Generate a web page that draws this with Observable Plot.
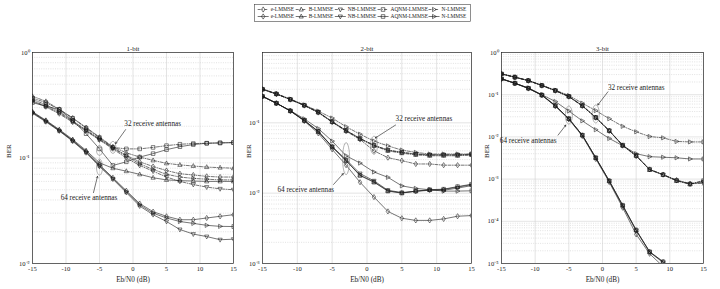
<!DOCTYPE html>
<html><head><meta charset="utf-8">
<script src="https://cdn.jsdelivr.net/npm/d3@7"></script>
<script src="https://cdn.jsdelivr.net/npm/@observablehq/plot@0.6"></script>
<style>
body{margin:0;background:#fff}
#wrap{position:relative;width:720px;height:289px;overflow:hidden;font-family:"Liberation Serif",serif;-webkit-font-smoothing:antialiased}
.pn{position:absolute;top:0}
</style>
</head><body><div id="wrap"></div>
<script>
// ---------------- data ----------------
const snr = [-15,-13,-11,-9,-7,-5,-3,-1,1,3,5,7,9,11,13,15];
const methods = ["e-LMMSE","B-LMMSE","NB-LMMSE","AQNM-LMMSE","N-LMMSE"];
const xTicks = [-15,-10,-5,0,5,10,15];

// 1-bit, 32 receive antennas (dash-dot)
const b1_32_e  = [0.36,0.32,0.275,0.225,0.185,0.152,0.126,0.106,0.092,0.083,0.076,0.071,0.069,0.067,0.066,0.066];
const b1_32_B  = [0.385,0.345,0.29,0.24,0.195,0.158,0.128,0.112,0.102,0.095,0.089,0.086,0.084,0.082,0.081,0.080];
const b1_32_NB = [0.345,0.305,0.262,0.218,0.18,0.148,0.122,0.100,0.085,0.075,0.066,0.060,0.056,0.053,0.051,0.050];
const b1_32_AQ = [0.37,0.335,0.288,0.238,0.192,0.156,0.126,0.122,0.122,0.126,0.131,0.135,0.137,0.138,0.139,0.140];
const b1_32_N  = [0.35,0.31,0.268,0.222,0.182,0.15,0.124,0.104,0.088,0.078,0.070,0.066,0.064,0.063,0.062,0.062];
// 1-bit, 64 receive antennas (solid)
const b1_64_e  = [0.27,0.225,0.183,0.147,0.115,0.086,0.065,0.049,0.037,0.031,0.028,0.026,0.026,0.027,0.028,0.029];
const b1_64_B  = [0.275,0.228,0.186,0.15,0.118,0.090,0.080,0.075,0.070,0.065,0.062,0.061,0.0605,0.060,0.060,0.060];
const b1_64_NB = [0.265,0.22,0.18,0.144,0.112,0.083,0.063,0.047,0.035,0.029,0.025,0.021,0.019,0.018,0.0168,0.017];
const b1_64_AQ = [0.335,0.31,0.288,0.227,0.17,0.122,0.085,0.092,0.102,0.110,0.120,0.128,0.134,0.138,0.139,0.140];
const b1_64_N  = [0.27,0.223,0.182,0.146,0.114,0.085,0.064,0.048,0.036,0.030,0.027,0.025,0.024,0.023,0.0225,0.0224];

// 2-bit
const b2_32_e  = [0.30,0.256,0.214,0.176,0.14,0.102,0.076,0.058,0.040,0.032,0.029,0.026,0.026,0.025,0.025,0.025];
const b2_32_B  = [0.30,0.257,0.215,0.177,0.141,0.103,0.077,0.059,0.047,0.040,0.037,0.035,0.034,0.034,0.034,0.035];
const b2_32_NB = [0.30,0.257,0.215,0.177,0.142,0.104,0.078,0.060,0.048,0.041,0.038,0.036,0.035,0.035,0.035,0.035];
const b2_32_AQ = [0.30,0.258,0.215,0.178,0.142,0.104,0.078,0.060,0.048,0.041,0.038,0.036,0.035,0.035,0.035,0.036];
const b2_32_N  = [0.305,0.26,0.218,0.18,0.147,0.117,0.088,0.069,0.055,0.047,0.041,0.038,0.036,0.036,0.036,0.036];
const b2_64_e  = [0.238,0.19,0.147,0.106,0.071,0.042,0.025,0.0143,0.0088,0.0055,0.0044,0.0041,0.0041,0.0043,0.0047,0.0048];
const b2_64_B  = [0.238,0.19,0.148,0.108,0.075,0.046,0.029,0.018,0.0145,0.0108,0.0101,0.0107,0.0111,0.0113,0.0122,0.0132];
const b2_64_NB = [0.238,0.19,0.148,0.108,0.076,0.046,0.030,0.019,0.015,0.011,0.0102,0.0106,0.011,0.011,0.0118,0.0128];
const b2_64_AQ = [0.238,0.19,0.148,0.108,0.075,0.045,0.029,0.0178,0.0143,0.0107,0.0100,0.0107,0.0112,0.0114,0.0124,0.0134];
const b2_64_N  = [0.238,0.19,0.149,0.114,0.083,0.055,0.034,0.0268,0.020,0.0168,0.0127,0.0117,0.0112,0.0107,0.0107,0.0108];

// 3-bit
const b3_32_e  = [0.31,0.258,0.214,0.164,0.124,0.090,0.054,0.0285,0.0139,0.0062,0.0035,0.0017,0.00128,0.00095,0.00078,0.00079];
const b3_32_B  = [0.31,0.26,0.215,0.165,0.125,0.091,0.055,0.029,0.014,0.0063,0.0036,0.00165,0.00126,0.00091,0.00076,0.00091];
const b3_32_NB = [0.31,0.259,0.215,0.165,0.125,0.090,0.055,0.029,0.014,0.0063,0.0036,0.0017,0.00127,0.00093,0.00077,0.00085];
const b3_32_AQ = [0.312,0.26,0.216,0.166,0.126,0.091,0.055,0.0288,0.0141,0.0064,0.0036,0.00168,0.00127,0.00092,0.00076,0.00092];
const b3_32_N  = [0.315,0.262,0.218,0.168,0.128,0.096,0.063,0.042,0.027,0.0178,0.0132,0.0102,0.0095,0.0078,0.0076,0.0076];
const b3_64_e  = [0.236,0.185,0.14,0.097,0.053,0.026,0.0105,0.0030,0.00085,0.00021,0.000049,0.000017,0.0000085,0.000004,0.000002,0.000001];
const b3_64_B  = [0.238,0.187,0.142,0.098,0.055,0.027,0.011,0.0032,0.00091,0.00024,0.000062,0.000019,0.000011,0.000005,0.0000025,0.0000012];
const b3_64_NB = [0.238,0.187,0.142,0.098,0.055,0.027,0.011,0.0032,0.0009,0.00023,0.00006,0.0000185,0.0000105,0.0000048,0.0000024,0.0000011];
const b3_64_AQ = [0.238,0.187,0.142,0.098,0.055,0.027,0.011,0.0032,0.00091,0.00024,0.000062,0.000019,0.000011,0.000005,0.0000025,0.0000012];
const b3_64_N  = [0.238,0.187,0.145,0.10,0.069,0.041,0.024,0.0148,0.0092,0.0062,0.0040,0.0034,0.0033,0.0032,0.0030,0.0030];

// annotations
const ann1_text = [{x:-1.3,y:0.21,t:"32 receive antennas"},{x:-10.8,y:0.0425,t:"64 receive antennas"}];
const ann1_arrow = [{x1:-1.1,y1:0.186,x2:-2.6,y2:0.137},{x1:-5.9,y1:0.047,x2:-5.3,y2:0.067}];
const ann1_ell = [{x:-3,y:0.126},{x:-5,y:0.118},{x:-5,y:0.082}];
const ann2_text = [{x:4.1,y:0.114,t:"32 receive antennas"},{x:-12.85,y:0.0113,t:"64 receive antennas"}];
const ann2_arrow = [{x1:4.1,y1:0.093,x2:1.2,y2:0.061},{x1:-4.8,y1:0.0133,x2:-3.4,y2:0.019}];
const ann2_ell = [{x:1,y:0.048},{x:-3,y:0.031}];
const ann3_text = [{x:0.8,y:0.146,t:"32 receive antennas"},{x:-15.25,y:0.0083,t:"64 receive antennas"}];
const ann3_arrow = [{x1:0.8,y1:0.117,x2:-0.7,y2:0.057},{x1:-6.6,y1:0.011,x2:-5.45,y2:0.019}];
const ann3_ell = [{x:-1,y:0.035},{x:-5,y:0.033}];

// ---------------- drawing ----------------
function poly(pts){return {draw(ctx,size){const r=Math.sqrt(size/Math.PI);pts.forEach(([a,b],i)=>i?ctx.lineTo(a*r,b*r):ctx.moveTo(a*r,b*r));ctx.closePath();}};}
const SYM = {
  "e-LMMSE": poly([[0,-1.3],[0.85,0],[0,1.3],[-0.85,0]]),
  "B-LMMSE": poly([[0,-1.2],[1.05,0.75],[-1.05,0.75]]),
  "NB-LMMSE": poly([[0,1.2],[1.05,-0.75],[-1.05,-0.75]]),
  "AQNM-LMMSE": poly([[-0.9,-0.9],[0.9,-0.9],[0.9,0.9],[-0.9,0.9]]),
  "N-LMMSE": poly([[1.2,0],[-0.75,-1.05],[-0.75,1.05]])
};
function ell(rx,ry){return {draw(ctx){const k=0.5523;ctx.moveTo(rx,0);ctx.bezierCurveTo(rx,ry*k,rx*k,ry,0,ry);ctx.bezierCurveTo(-rx*k,ry,-rx,ry*k,-rx,0);ctx.bezierCurveTo(-rx,-ry*k,-rx*k,-ry,0,-ry);ctx.bezierCurveTo(rx*k,-ry,rx,-ry*k,rx,0);ctx.closePath();}};}
const SUP = {"-":"\u207B","0":"\u2070","1":"\u00B9","2":"\u00B2","3":"\u00B3","4":"\u2074","5":"\u2075"};
const fmtY = v => "10" + String(Math.round(Math.log10(v))).split("").map(c=>SUP[c]).join("");
const DASHDOT = "3,1.4,0.8,1.4";
const INK = "#1a1a1a";

const panels = [
  {title:"1-bit", left:0, mL:32, mR:7, domain:[1e-2,1], yTicks:[1e-2,1e-1,1], berDx:-24,
   s32:[b1_32_e,b1_32_B,b1_32_NB,b1_32_AQ,b1_32_N], s64:[b1_64_e,b1_64_B,b1_64_NB,b1_64_AQ,b1_64_N],
   texts:ann1_text, arrows:ann1_arrow, ells:ann1_ell, ellR:[[3,6],[3,5],[3,8]]},
  {title:"2-bit", left:240, mL:22, mR:9, domain:[1e-3,1], yTicks:[1e-3,1e-2,1e-1], berDx:-14,
   s32:[b2_32_e,b2_32_B,b2_32_NB,b2_32_AQ,b2_32_N], s64:[b2_64_e,b2_64_B,b2_64_NB,b2_64_AQ,b2_64_N],
   texts:ann2_text, arrows:ann2_arrow, ells:ann2_ell, ellR:[[3.5,9],[3.5,16]]},
  {title:"3-bit", left:480, mL:21, mR:17, domain:[1e-5,1], yTicks:[1e-5,1e-4,1e-3,1e-2,1e-1,1], berDx:-15,
   s32:[b3_32_e,b3_32_B,b3_32_NB,b3_32_AQ,b3_32_N], s64:[b3_64_e,b3_64_B,b3_64_NB,b3_64_AQ,b3_64_N],
   texts:ann3_text, arrows:ann3_arrow, ells:ann3_ell, ellR:[[3.5,9],[3.5,9]]}
];

const wrap = document.getElementById("wrap");
for (const cfg of panels) {
  const rows = [];
  for (const [ant, series] of [["32", cfg.s32], ["64", cfg.s64]])
    methods.forEach((m, j) => series[j].forEach((v, i) => rows.push({x: snr[i], y: v, m, ant})));
  const lo = Math.round(Math.log10(cfg.domain[0])), hi = Math.round(Math.log10(cfg.domain[1]));
  const minor = [], major = [];
  for (let k = lo; k < hi; k++) { for (let q = 2; q <= 9; q++) minor.push(q * 10 ** k); if (k > lo) major.push(10 ** k); }
  const marks = [
    Plot.ruleY(minor, {stroke:"#c4c4c4", strokeWidth:0.5, strokeDasharray:"1,1.3"}),
    Plot.ruleY(major, {stroke:"#d2d2d2", strokeWidth:0.6}),
    Plot.ruleX(xTicks.slice(1,-1), {stroke:"#d2d2d2", strokeWidth:0.6}),
    Plot.axisX({ticks:xTicks, tickSize:0, tickPadding:3, tickFormat:d=>String(d), label:null, color:INK}),
    Plot.axisY({ticks:cfg.yTicks, tickSize:0, tickPadding:3, tickFormat:fmtY, label:null, color:INK}),
    Plot.line(rows.filter(d=>d.ant==="32"), {x:"x", y:"y", z:"m", stroke:INK, strokeWidth:0.6, strokeDasharray:DASHDOT, clip:true}),
    Plot.line(rows.filter(d=>d.ant==="64"), {x:"x", y:"y", z:"m", stroke:INK, strokeWidth:0.6, clip:true}),
    ...methods.map(m => Plot.dot(rows.filter(d=>d.m===m), {x:"x", y:"y", r:2.0, symbol:SYM[m], stroke:INK, strokeWidth:0.55, fill:"none", clip:true})),
    ...cfg.ells.map((e,i) => Plot.dot([e], {x:"x", y:"y", r:1, symbol:ell(...cfg.ellR[i]), stroke:"#666", strokeWidth:0.5, fill:"none"})),
    Plot.arrow(cfg.arrows, {x1:"x1", y1:"y1", x2:"x2", y2:"y2", stroke:INK, strokeWidth:0.6, headLength:4, bend:false}),
    Plot.text(cfg.texts, {x:"x", y:"y", text:"t", textAnchor:"start", fontSize:7.2, fill:INK}),
    Plot.text([cfg.title], {frameAnchor:"top", dy:-6, fontSize:6.8, fill:INK}),
    Plot.text(["Eb/N0 (dB)"], {frameAnchor:"bottom", dy:18, fontSize:7.2, fill:INK}),
    Plot.text(["BER"], {frameAnchor:"left", dx:cfg.berDx, rotate:-90, fontSize:7, fill:INK}),
    Plot.frame({stroke:"#222", strokeWidth:0.7})
  ];
  const svg = Plot.plot({
    width:240, height:289, marginLeft:cfg.mL, marginRight:cfg.mR, marginTop:52, marginBottom:26,
    x:{domain:[-15,15]},
    y:{type:"log", domain:cfg.domain},
    style:{fontFamily:'"Liberation Serif", serif', fontSize:"6.6px", background:"transparent", color:INK, overflow:"visible"},
    marks
  });
  const div = document.createElement("div");
  div.className = "pn"; div.style.left = cfg.left + "px";
  div.appendChild(svg); wrap.appendChild(div);
}

// ---------------- legend ----------------
const LW = 217, LH = 18;
const leg = d3.select(wrap).append("svg").attr("width", LW).attr("height", LH)
  .style("position","absolute").style("left","254px").style("top","4px")
  .style("font-family",'"Liberation Serif", serif').style("font-size","5.4px");
leg.append("rect").attr("x",0.5).attr("y",0.5).attr("width",LW-1).attr("height",LH-1).attr("fill","#fff").attr("stroke","#444").attr("stroke-width",0.6);
const xs = []; let cx = 4;
const meas = leg.append("text");
methods.forEach(m => { xs.push(cx); meas.text(m); cx += 13 + meas.node().getComputedTextLength() + 5; });
meas.remove();
const scaleX = (LW - 4) / (cx - 5 + 4);
[[DASHDOT, 5.5], [null, 12.5]].forEach(([dash, y]) => {
  methods.forEach((m, j) => {
    const x0 = xs[j] * scaleX;
    leg.append("line").attr("x1",x0).attr("x2",x0+11).attr("y1",y).attr("y2",y).attr("stroke",INK).attr("stroke-width",0.6).attr("stroke-dasharray",dash);
    leg.append("path").attr("d", d3.symbol(SYM[m], Math.PI*2.0*2.0)()).attr("transform",`translate(${x0+5.5},${y})`).attr("fill","none").attr("stroke",INK).attr("stroke-width",0.6);
    leg.append("text").attr("x",x0+13).attr("y",y).attr("dy","0.35em").attr("fill",INK).text(m);
  });
});
</script>
</body></html>
